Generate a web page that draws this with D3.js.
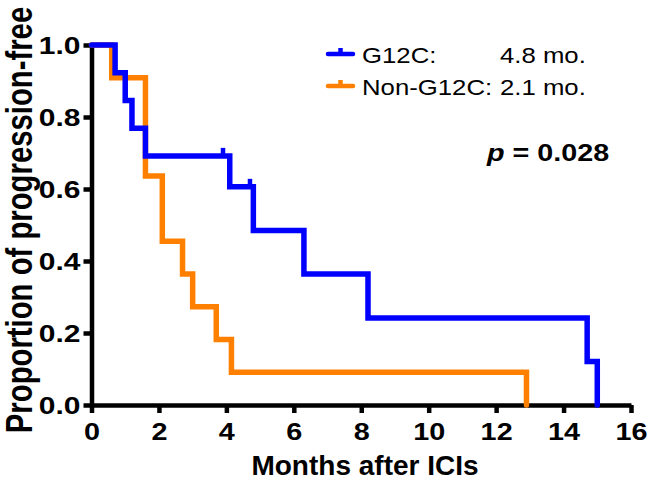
<!DOCTYPE html>
<html>
<head>
<meta charset="utf-8">
<script src="https://cdn.jsdelivr.net/npm/d3@7"></script>
<style>
  body { margin: 0; background: #fff; }
  svg { display: block; font-family: "Liberation Sans", Arial, Helvetica, sans-serif; }
</style>
</head>
<body>
<svg id="svg" width="647" height="490"></svg>
<script>
// Kaplan-Meier steps
var g12cTimes = [0, 0.7, 1.0, 1.2, 1.6, 4.1, 4.8, 6.3, 8.2, 14.7, 15.0];
var g12cSurv = [1.0, 0.923, 0.846, 0.769, 0.692, 0.606, 0.485, 0.364, 0.242, 0.121, 0];
var g12cCensorTimes = [3.9, 4.7];
var g12cCensorSurv = [0.692, 0.606];

var nonTimes = [0, 0.6, 1.6, 2.1, 2.7, 3.0, 3.7, 4.15, 12.9];
var nonSurv = [1.0, 0.909, 0.636, 0.455, 0.364, 0.273, 0.182, 0.091, 0];

var xTicks = [0, 2, 4, 6, 8, 10, 12, 14, 16];
var yTicks = [0, 0.2, 0.4, 0.6, 0.8, 1.0];

var legendNames = ['G12C:', 'Non-G12C:'];
var legendMedians = ['4.8 mo.', '2.1 mo.'];
var colors = ['#0000ff', '#ff8000'];

var svg = d3.select('svg');

var x = d3.scaleLinear().domain([0, 16]).range([91.5, 631]);
var y = d3.scaleLinear().domain([0, 1]).range([405, 45]);

// axes
var xAxis = svg.append('g')
    .attr('transform', 'translate(0,' + y(0) + ')')
    .call(d3.axisBottom(x).tickValues(xTicks).tickSize(8).tickSizeOuter(0));

var yAxis = svg.append('g')
    .attr('transform', 'translate(' + x(0) + ',0)')
    .call(d3.axisLeft(y).tickValues(yTicks).tickSize(8).tickSizeOuter(0).tickFormat(d3.format('.1f')));

[xAxis, yAxis].forEach(function (ax) {
    ax.select('.domain').attr('stroke', '#000').attr('stroke-width', 4.5);
    ax.selectAll('.tick line').attr('stroke', '#000').attr('stroke-width', 4.5);
    ax.selectAll('.tick text').remove();
});

// tick labels (glyphs in the original are a little wide)
xAxis.selectAll('.tick').append('text')
    .attr('transform', 'translate(0,35) scale(1.2,1)')
    .attr('text-anchor', 'middle')
    .attr('fill', '#000')
    .attr('font-size', 24)
    .attr('font-weight', 'bold')
    .text(function (d) { return d; });

yAxis.selectAll('.tick').append('text')
    .attr('transform', 'translate(-11,8.5) scale(1.25,1)')
    .attr('text-anchor', 'end')
    .attr('fill', '#000')
    .attr('font-size', 24)
    .attr('font-weight', 'bold')
    .text(function (d) { return d3.format('.1f')(d); });

// axis titles
svg.append('text')
    .attr('x', 365)
    .attr('y', 475)
    .attr('text-anchor', 'middle')
    .attr('font-size', 28)
    .attr('font-weight', 'bold')
    .text('Months after ICIs');

svg.append('text')
    .attr('transform', 'translate(32,220) scale(1.25,1) rotate(-90)')
    .attr('text-anchor', 'middle')
    .attr('font-size', 29.3)
    .attr('font-weight', 'bold')
    .text('Proportion of progression-free');

// survival curves
var line = d3.line()
    .x(function (d) { return x(d[0]); })
    .y(function (d) { return y(d[1]); })
    .curve(d3.curveStepAfter);

var nonPts = d3.zip(nonTimes, nonSurv);
var g12cPts = d3.zip(g12cTimes, g12cSurv);

svg.append('path')
    .attr('d', line(nonPts))
    .attr('fill', 'none')
    .attr('stroke', colors[1])
    .attr('stroke-width', 5.5)
    .attr('stroke-linecap', 'round')
    .attr('stroke-linejoin', 'miter');

svg.append('path')
    .attr('d', line(g12cPts))
    .attr('fill', 'none')
    .attr('stroke', colors[0])
    .attr('stroke-width', 5.5)
    .attr('stroke-linecap', 'round')
    .attr('stroke-linejoin', 'miter');

// censor marks
svg.selectAll('.censor')
    .data(d3.zip(g12cCensorTimes, g12cCensorSurv))
    .enter()
    .append('line')
    .attr('class', 'censor')
    .attr('x1', function (d) { return x(d[0]); })
    .attr('x2', function (d) { return x(d[0]); })
    .attr('y1', function (d) { return y(d[1]); })
    .attr('y2', function (d) { return y(d[1]) - 8; })
    .attr('stroke', colors[0])
    .attr('stroke-width', 4.5);

// legend
var legend = svg.append('g');
legendNames.forEach(function (name, i) {
    var ly = 54 + i * 32;
    legend.append('line')
        .attr('x1', 328).attr('x2', 353)
        .attr('y1', ly).attr('y2', ly)
        .attr('stroke', colors[i])
        .attr('stroke-width', 4.5)
        .attr('stroke-linecap', 'round');
    legend.append('line')
        .attr('x1', 340.5).attr('x2', 340.5)
        .attr('y1', ly).attr('y2', ly - 6)
        .attr('stroke', colors[i])
        .attr('stroke-width', 4.5);
    legend.append('text')
        .attr('transform', 'translate(362,' + (ly + 9) + ') scale(1.17,1)')
        .attr('font-size', 22)
        .attr('fill', '#000')
        .text(name);
    legend.append('text')
        .attr('transform', 'translate(500,' + (ly + 9) + ') scale(1.17,1)')
        .attr('font-size', 22)
        .attr('fill', '#000')
        .text(legendMedians[i]);
});

// p value
var pText = svg.append('text')
    .attr('transform', 'translate(487,161) scale(1.25,1)')
    .attr('font-size', 23)
    .attr('font-weight', 'bold');
pText.append('tspan').attr('font-style', 'italic').text('p');
pText.append('tspan').text(' = 0.028');
</script>
</body>
</html>
